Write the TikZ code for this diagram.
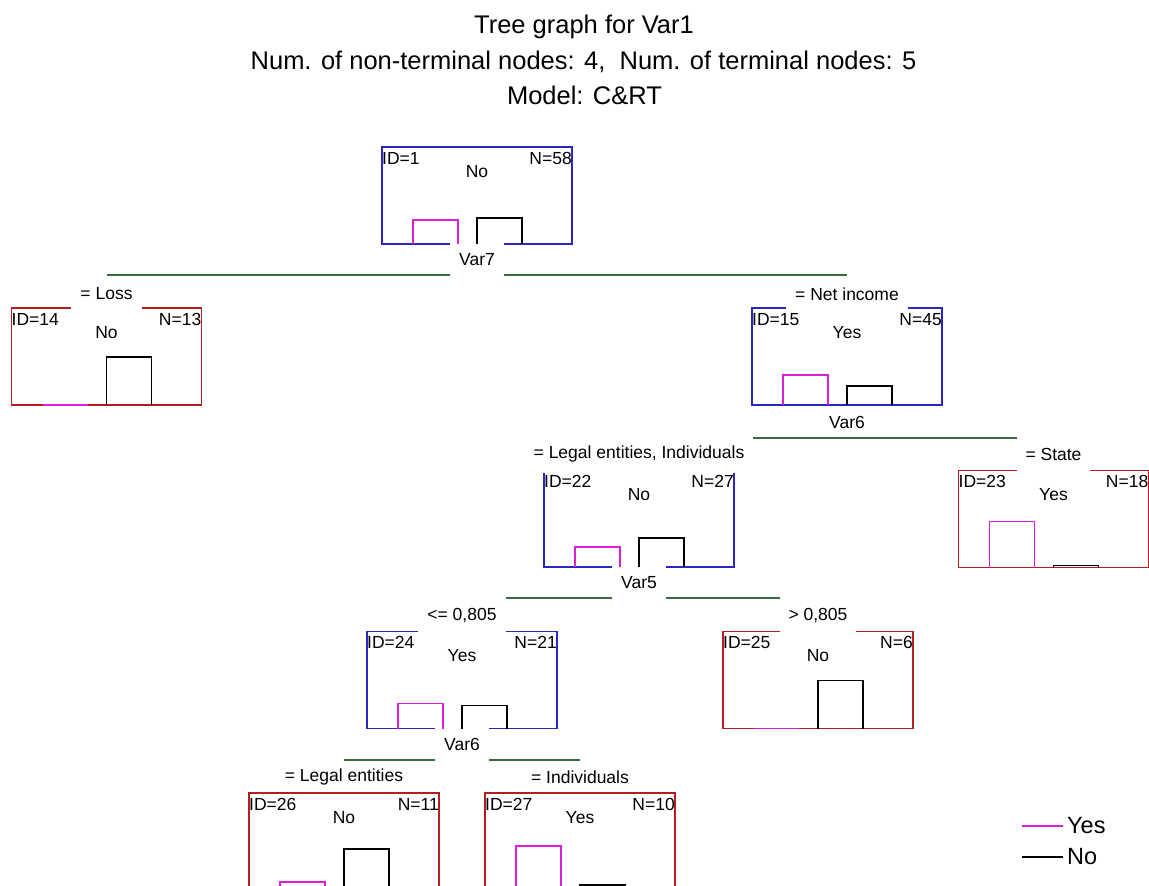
\documentclass[tikz,border=0pt]{standalone}
\usepackage{fontspec}
\setmainfont{Liberation Sans}
\definecolor{splitgreen}{RGB}{58,108,66}
\definecolor{innerblue}{RGB}{40,40,190}
\definecolor{leafred}{RGB}{180,30,30}
\definecolor{yespink}{RGB}{220,30,220}
\tikzset{
  splitbox/.style={draw=innerblue, line width=1.6pt, minimum width=190pt, minimum height=97pt, inner sep=0pt, outer sep=0pt},
  leafbox/.style={splitbox, draw=leafred},
  txt/.style={inner sep=0pt, font=\fontsize{17.5pt}{21pt}\selectfont},
  cover/.style={txt, fill=white, inner xsep=9pt},
  varcover/.style={cover, minimum height=35pt},
  topcover/.style={cover, minimum height=30pt},
  edgecover/.style={cover, minimum height=38pt},
  splitline/.style={draw=splitgreen, line width=1.5pt},
  yesbar/.style={draw=yespink, line width=1.5pt},
  nobar/.style={draw=black, line width=1.5pt},
  titletext/.style={inner sep=0pt, anchor=base, font=\fontsize{25.5pt}{30pt}\selectfont},
  legtxt/.style={inner sep=0pt, inner xsep=4pt, anchor=west, font=\fontsize{23.5pt}{28pt}\selectfont}
}
\begin{document}
\begin{tikzpicture}[x=1pt, y=-1pt]
\useasboundingbox (0,0) rectangle (1149,886);
\clip (0,0) rectangle (1149,886);
% header
\node[titletext] (t1) at (584,34) {Tree graph for Var1};
\node[titletext] (t2) at (583.5,69) {Num. of non-terminal nodes: 4,~~Num. of terminal nodes: 5};
\node[titletext] (t3) at (584.5,104) {Model: C\&RT};
% tree boxes
\node[splitbox] (1) at (477,195.5) {};
\node[leafbox] (14) at (106.5,356.5) {};
\node[splitbox] (15) at (847,356.5) {};
\node[splitbox] (22) at (639,518.5) {};
\node[leafbox] (23) at (1053.5,519) {};
\node[splitbox] (24) at (462,680) {};
\node[leafbox] (25) at (818,680) {};
\node[leafbox] (26) at (344,841.5) {};
\node[leafbox] (27) at (580,841.5) {};
% split lines
\coordinate (s1) at ([yshift=-31pt]1.south);
\path[draw,splitline] (14.north |- s1) -- (15.north |- s1);
\coordinate (s15) at ([yshift=-33pt]15.south);
\path[draw,splitline] (22.north |- s15) -- (23.north |- s15);
\coordinate (s22) at ([yshift=-31pt]22.south);
\path[draw,splitline] (24.north |- s22) -- (25.north |- s22);
\coordinate (s24) at ([yshift=-31.5pt]24.south);
\path[draw,splitline] (26.north |- s24) -- (27.north |- s24);
% split variables
\node[varcover] (1v) at ([yshift=-15.5pt]1.south) {Var7};
\node[txt] (15v) at ([yshift=-17pt]15.south) {Var6};
\node[varcover] (22v) at ([yshift=-15.5pt]22.south) {Var5};
\node[varcover] (24v) at ([yshift=-15.5pt]24.south) {Var6};
% split conditions
\node[topcover] (14e) at ([yshift=14pt]14.north) {= Loss};
\node[topcover] (15e) at ([yshift=14pt]15.north) {= Net income};
\node[edgecover] (22e) at ([yshift=16pt]22.north) {= Legal entities, Individuals};
\node[edgecover] (23e) at ([yshift=16pt]23.north) {= State};
\node[edgecover] (24e) at ([yshift=16pt]24.north) {<= 0,805};
\node[edgecover] (25e) at ([yshift=16pt]25.north) {> 0,805};
\node[txt] (26e) at ([yshift=16pt]26.north) {= Legal entities};
\node[txt] (27e) at ([yshift=16pt]27.north) {= Individuals};
% node texts
\node[txt, anchor=north west] (1i) at ([yshift=-5pt]1.north west) {ID=1};
\node[txt, anchor=north east] (1n) at ([yshift=-5pt]1.north east) {N=58};
\node[txt, anchor=north] (1c) at ([yshift=-18pt]1.north) {No};
\node[txt, anchor=north west] (14i) at ([yshift=-5pt]14.north west) {ID=14};
\node[txt, anchor=north east] (14n) at ([yshift=-5pt]14.north east) {N=13};
\node[txt, anchor=north] (14c) at ([yshift=-18pt]14.north) {No};
\node[txt, anchor=north west] (15i) at ([yshift=-5pt]15.north west) {ID=15};
\node[txt, anchor=north east] (15n) at ([yshift=-5pt]15.north east) {N=45};
\node[txt, anchor=north] (15c) at ([yshift=-18pt]15.north) {Yes};
\node[txt, anchor=north west] (22i) at ([yshift=-5pt]22.north west) {ID=22};
\node[txt, anchor=north east] (22n) at ([yshift=-5pt]22.north east) {N=27};
\node[txt, anchor=north] (22c) at ([yshift=-18pt]22.north) {No};
\node[txt, anchor=north west] (23i) at ([yshift=-5pt]23.north west) {ID=23};
\node[txt, anchor=north east] (23n) at ([yshift=-5pt]23.north east) {N=18};
\node[txt, anchor=north] (23c) at ([yshift=-18pt]23.north) {Yes};
\node[txt, anchor=north west] (24i) at ([yshift=-5pt]24.north west) {ID=24};
\node[txt, anchor=north east] (24n) at ([yshift=-5pt]24.north east) {N=21};
\node[txt, anchor=north] (24c) at ([yshift=-18pt]24.north) {Yes};
\node[txt, anchor=north west] (25i) at ([yshift=-5pt]25.north west) {ID=25};
\node[txt, anchor=north east] (25n) at ([yshift=-5pt]25.north east) {N=6};
\node[txt, anchor=north] (25c) at ([yshift=-18pt]25.north) {No};
\node[txt, anchor=north west] (26i) at ([yshift=-5pt]26.north west) {ID=26};
\node[txt, anchor=north east] (26n) at ([yshift=-5pt]26.north east) {N=11};
\node[txt, anchor=north] (26c) at ([yshift=-18pt]26.north) {No};
\node[txt, anchor=north west] (27i) at ([yshift=-5pt]27.north west) {ID=27};
\node[txt, anchor=north east] (27n) at ([yshift=-5pt]27.north east) {N=10};
\node[txt, anchor=north] (27c) at ([yshift=-18pt]27.north) {Yes};
% histogram bars
\path[draw,yesbar] (1.south) ++(-64,0) -- ++(0,-24) -- ++(45,0) -- ++(0,24);
\path[draw,nobar] (1.south) -- ++(0,-26) -- ++(45,0) -- ++(0,26);
\path[draw,yesbar] (14.south) ++(-64,0) -- ++(45,0);
\path[draw,nobar] (14.south) -- ++(0,-48) -- ++(45,0) -- ++(0,48);
\path[draw,yesbar] (15.south) ++(-64,0) -- ++(0,-30) -- ++(45,0) -- ++(0,30);
\path[draw,nobar] (15.south) -- ++(0,-19) -- ++(45,0) -- ++(0,19);
\path[draw,yesbar] (22.south) ++(-64,0) -- ++(0,-20) -- ++(45,0) -- ++(0,20);
\path[draw,nobar] (22.south) -- ++(0,-29) -- ++(45,0) -- ++(0,29);
\path[draw,yesbar] (23.south) ++(-64,0) -- ++(0,-46) -- ++(45,0) -- ++(0,46);
\path[draw,nobar] (23.south) -- ++(0,-2) -- ++(45,0) -- ++(0,2);
\path[draw,yesbar] (24.south) ++(-64,0) -- ++(0,-25) -- ++(45,0) -- ++(0,25);
\path[draw,nobar] (24.south) -- ++(0,-23) -- ++(45,0) -- ++(0,23);
\path[draw,yesbar] (25.south) ++(-64,0) -- ++(45,0);
\path[draw,nobar] (25.south) -- ++(0,-48) -- ++(45,0) -- ++(0,48);
\path[draw,yesbar] (26.south) ++(-64,0) -- ++(0,-8) -- ++(45,0) -- ++(0,8);
\path[draw,nobar] (26.south) -- ++(0,-41) -- ++(45,0) -- ++(0,41);
\path[draw,yesbar] (27.south) ++(-64,0) -- ++(0,-44) -- ++(45,0) -- ++(0,44);
\path[draw,nobar] (27.south) -- ++(0,-5) -- ++(45,0) -- ++(0,5);
% legend
\coordinate (ys) at (1022,826);
\node[legtxt] (ly) at (1063,826) {Yes};
\path[draw,yesbar,line width=1.2pt] (ys) -- (ly.west);
\coordinate (ns) at (1022,857);
\node[legtxt] (ln) at (1063,857) {No};
\path[draw,nobar,line width=1.2pt] (ns) -- (ln.west);
\end{tikzpicture}
\end{document}
